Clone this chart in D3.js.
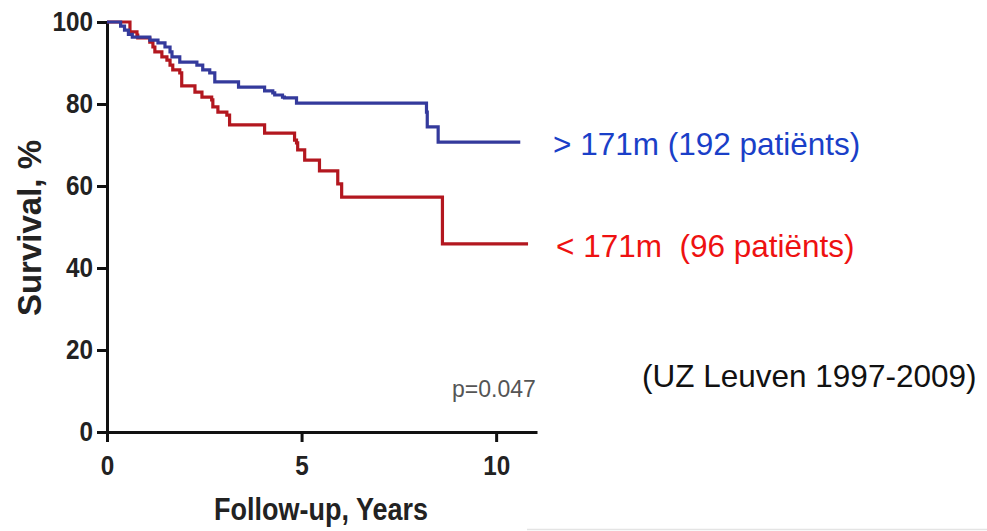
<!DOCTYPE html>
<html>
<head>
<meta charset="utf-8">
<script src="https://cdn.jsdelivr.net/npm/d3@7"></script>
<style>
  html, body { margin: 0; padding: 0; background: #fff; }
  svg { display: block; }
  .axis path, .axis line { stroke: #111; stroke-width: 3; }
  .axis text { font-family: "Liberation Sans", Arial, sans-serif; font-weight: bold; font-size: 27px; fill: #222; }
</style>
</head>
<body>
<svg id="km" width="987" height="531"></svg>
<script>

// Kaplan-Meier steps (years, survival %)
var blueTimes = [0, 0.35, 0.45, 0.55, 0.65, 1.10, 1.31, 1.49, 1.62, 1.67, 1.87, 2.31, 2.46, 2.64, 2.77, 3.38, 4.05, 4.26, 4.31, 4.51, 4.56, 4.87, 8.21, 8.23, 8.51, 10.62];
var blueSurv  = [100, 99.0, 98.0, 97.0, 96.3, 95.6, 94.9, 93.9, 92.7, 91.5, 90.2, 89.5, 88.3, 87.6, 85.4, 84.1, 83.2, 82.7, 82.2, 81.7, 81.5, 80.2, 78.0, 74.4, 70.7, 70.7];

var redTimes = [0, 0.59, 0.77, 0.79, 1.10, 1.18, 1.23, 1.41, 1.54, 1.62, 1.69, 1.87, 1.92, 2.26, 2.44, 2.69, 2.72, 2.85, 3.08, 3.15, 4.05, 4.82, 4.87, 4.90, 5.08, 5.46, 5.93, 6.03, 8.62, 10.82];
var redSurv  = [100, 97.6, 96.8, 96.1, 95.1, 93.9, 92.7, 91.5, 90.7, 89.5, 88.3, 87.6, 84.4, 82.9, 81.7, 81.0, 79.3, 78.0, 77.3, 74.9, 72.9, 71.2, 70.5, 68.8, 66.3, 63.7, 60.5, 57.3, 45.9, 45.9];

var xTicks = [0, 5, 10];
var yTicks = [0, 20, 40, 60, 80, 100];

var seriesLabels = ["> 171m (192 patiënts)", "< 171m  (96 patiënts)"];
var sourceNote = "(UZ Leuven 1997-2009)";
var pValue = "p=0.047";

var zip = function( ts, ss ) {
	return ts.map( function( t, i ) { return { t: t, s: ss[i] }; } );
};

// narrow the bold glyphs a little, the original uses a condensed face
var squeeze = 0.9;

var svg = d3.select('svg#km');

var x = d3.scaleLinear().domain([0, 11.05]).range([107, 537]);
var y = d3.scaleLinear().domain([0, 100]).range([432, 22]);

var line = d3.line()
	.curve(d3.curveStepAfter)
	.x(function(d) { return x(d.t); })
	.y(function(d) { return y(d.s); });

var xAxis = svg.append('g')
	.attr('class', 'axis')
	.attr('transform', 'translate(0,' + y(0) + ')')
	.call( d3.axisBottom(x).tickValues(xTicks).tickSize(10).tickSizeOuter(0).tickPadding(14) );

xAxis.selectAll('text')
	.attr('transform', 'scale(' + squeeze + ',1)');

var yAxis = svg.append('g')
	.attr('class', 'axis')
	.attr('transform', 'translate(' + x(0) + ',0)')
	.call( d3.axisLeft(y).tickValues(yTicks).tickSize(10).tickSizeOuter(0).tickPadding(4) );

yAxis.selectAll('text')
	.attr('x', -14 / squeeze)
	.attr('transform', 'scale(' + squeeze + ',1)');

svg.selectAll('.curve')
	.data([
		{ pts: zip(redTimes, redSurv), color: '#b3171f' },
		{ pts: zip(blueTimes, blueSurv), color: '#343a9c' }
	])
	.enter()
		.append('path')
		.classed('curve', true)
		.attr('d', function(d) { return line(d.pts); })
		.attr('fill', 'none')
		.attr('stroke', function(d) { return d.color; })
		.attr('stroke-width', 3.2);

// axis titles
svg.append('text')
	.attr('transform', 'translate(41,228) rotate(-90)')
	.attr('text-anchor', 'middle')
	.style('font-family', '"Liberation Sans", Arial, sans-serif')
	.style('font-weight', 'bold')
	.style('font-size', '33px')
	.attr('fill', '#222')
	.text('Survival, %');

svg.append('text')
	.attr('transform', 'translate(321,520) scale(0.87,1)')
	.attr('text-anchor', 'middle')
	.style('font-family', '"Liberation Sans", Arial, sans-serif')
	.style('font-weight', 'bold')
	.style('font-size', '31px')
	.attr('fill', '#222')
	.text('Follow-up, Years');

svg.append('text')
	.attr('x', 452)
	.attr('y', 397)
	.style('font-family', '"Liberation Sans", Arial, sans-serif')
	.style('font-size', '23px')
	.attr('fill', '#555')
	.text(pValue);

// right hand labels
svg.selectAll('.series-label')
	.data([
		{ text: seriesLabels[0], x: 553, y: 155, color: '#1a3fc8' },
		{ text: seriesLabels[1], x: 556, y: 257, color: '#ee1111' },
		{ text: sourceNote, x: 642, y: 387, color: '#111' }
	])
	.enter()
		.append('text')
		.classed('series-label', true)
		.attr('x', function(d) { return d.x; })
		.attr('y', function(d) { return d.y; })
		.style('white-space', 'pre')
		.style('font-family', '"Liberation Sans", Arial, sans-serif')
		.style('font-size', '31.5px')
		.attr('fill', function(d) { return d.color; })
		.text(function(d) { return d.text; });

// faint frame edge at the bottom right
svg.append('line')
	.attr('x1', 527).attr('x2', 987)
	.attr('y1', 529.5).attr('y2', 529.5)
	.attr('stroke', '#e4e4e4')
	.attr('stroke-width', 1.5);

</script>
</body>
</html>
